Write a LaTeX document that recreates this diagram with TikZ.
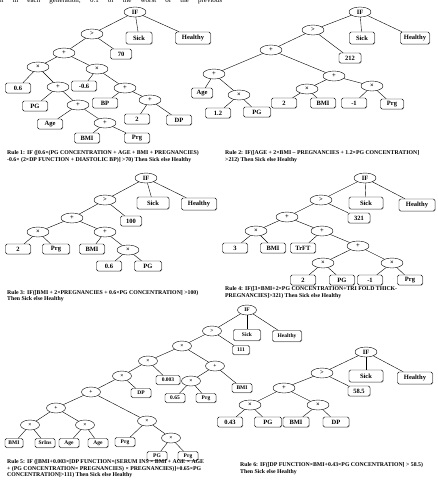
\documentclass[tikz,border=0pt]{standalone}
\usepackage{fontspec}
\setmainfont{Liberation Serif}
\usetikzlibrary{shapes.geometric,shadows}

\begin{document}
\begin{tikzpicture}[x=1pt, y=-1pt,
  op/.style={ellipse, draw, thin, minimum width=22pt, minimum height=10pt, inner sep=0pt, font=\fontsize{6.5}{7}\selectfont\bfseries},
  leaf/.style={rectangle, rounded corners=1.5pt, draw, thin, fill=white, minimum width=25pt, minimum height=10pt, inner sep=0pt, font=\fontsize{6.5}{7}\selectfont\bfseries, drop shadow={shadow xshift=0.5pt, shadow yshift=-0.5pt, fill=gray!60, opacity=1}},
  top/.style={minimum height=12pt},
  small/.style={minimum width=20pt, minimum height=9pt, font=\fontsize{5.5}{6}\selectfont\bfseries},
  smallop/.style={minimum width=19pt, minimum height=10pt, font=\fontsize{5.5}{6}\selectfont\bfseries},
  rule/.style={anchor=north west, align=left, inner sep=0pt, font=\fontsize{5.8}{6.4}\selectfont\bfseries}]

\useasboundingbox (0,0) rectangle (438,488);

% Cut-off text line at the top
\node[anchor=base west, inner sep=0pt, text width=222pt, font=\fontsize{7}{8}\selectfont] (topline) at (0,2.3)
  {n\hfill in\hfill each\hfill generation;\hfill 0.1\hfill of\hfill the\hfill worst\hfill of\hfill the\hfill previous};

% ---- Rule 1 tree ----
\node[op] (aIF) at (135,12) {IF};
\node[op] (aGT) at (92,34) {>};
\node[leaf, top, minimum width=26pt] (aSick) at (139,38) {Sick};
\node[leaf, top, minimum width=35pt] (aHealthy) at (193,38) {Healthy};
\node[leaf, minimum width=21pt] (a70) at (121,54) {70};
\node[op] (aAdd) at (64,53) {+};
\node[op] (aMulL) at (38,67) {×};
\node[op] (aMulR) at (97,69) {×};
\node[leaf] (a06) at (18,88) {0.6};
\node[op] (aAddPG) at (58,87) {+};
\node[leaf] (aN06) at (84,86) {-0.6};
\node[op] (aAddBP) at (125,88) {+};
\node[leaf] (aPG) at (35,106) {PG};
\node[op] (aAddAge) at (78,105) {+};
\node[leaf] (aBP) at (105,103) {BP};
\node[op] (aAddDP) at (150,100) {+};
\node[leaf] (aAge) at (50,124) {Age};
\node[op] (aAddBMI) at (105,123) {+};
\node[leaf] (a2) at (137,119) {2};
\node[leaf] (aDP) at (179,120) {DP};
\node[leaf] (aBMI) at (87,138) {BMI};
\node[leaf] (aPrg) at (137,138) {Prg};

\foreach \a/\b in {aIF/aGT, aIF/aSick, aIF/aHealthy, aGT/aAdd, aGT/a70, aAdd/aMulL, aAdd/aMulR,
  aMulL/a06, aMulL/aAddPG, aAddPG/aPG, aAddPG/aAddAge, aAddAge/aAge, aAddAge/aAddBMI,
  aAddBMI/aBMI, aAddBMI/aPrg, aMulR/aN06, aMulR/aAddBP, aAddBP/aBP, aAddBP/aAddDP,
  aAddDP/a2, aAddDP/aDP}
  \draw (\a) -- (\b);

\node[rule] (rule1) at (7,150.5) {Rule 1: IF ([0.6×(PG CONCENTRATION + AGE + BMI + PREGNANCIES)\\
  -0.6× (2×DP FUNCTION + DIASTOLIC BP)] >70) Then Sick else Healthy};

% ---- Rule 2 tree ----
\node[op] (bIF) at (360,12) {IF};
\node[op] (bGT) at (313,30) {>};
\node[leaf, top, minimum width=25pt] (bSick) at (362,38) {Sick};
\node[leaf, top, minimum width=29pt] (bHealthy) at (415,38) {Healthy};
\node[leaf, minimum width=22pt] (b212) at (350,58) {212};
\node[op] (bAdd) at (271,50) {+};
\node[op] (bAddL) at (214,74) {+};
\node[op] (bAddR) at (334,76) {+};
\node[leaf, minimum width=21pt] (bAge) at (202,93) {Age};
\node[op] (bMul) at (239,95) {×};
\node[leaf] (b12) at (218,113) {1.2};
\node[leaf, minimum width=27pt] (bPG) at (257,112) {PG};
\node[op] (bMul2) at (307,89) {×};
\node[op] (bMul3) at (372,86) {×};
\node[leaf] (b2) at (284,103) {2};
\node[leaf] (bBMI) at (323,103) {BMI};
\node[leaf] (bN1) at (354,103) {-1};
\node[leaf, minimum width=23pt] (bPrg) at (392,104) {Prg};

\foreach \a/\b in {bIF/bGT, bIF/bSick, bIF/bHealthy, bGT/bAdd, bGT/b212, bAdd/bAddL, bAdd/bAddR,
  bAddL/bAge, bAddL/bMul, bMul/b12, bMul/bPG, bAddR/bMul2, bAddR/bMul3,
  bMul2/b2, bMul2/bBMI, bMul3/bN1, bMul3/bPrg}
  \draw (\a) -- (\b);

\node[rule] (rule2) at (225,150.5) {Rule 2: IF([AGE + 2×BMI – PREGNANCIES + 1.2×PG CONCENTRATION]\\
  >212) Then Sick else Healthy};

% ---- Rule 3 tree ----
\node[op] (cIF) at (146,178) {IF};
\node[op] (cGT) at (105,200) {>};
\node[leaf, top, minimum width=32pt] (cSick) at (153,203) {Sick};
\node[leaf, top, minimum width=35pt] (cHealthy) at (199,204) {Healthy};
\node[leaf, minimum width=21pt] (c100) at (131,221) {100};
\node[op] (cAdd) at (72,218) {+};
\node[op] (cMul) at (38,232) {×};
\node[op] (cAddR) at (105,232) {+};
\node[leaf] (c2) at (18,249) {2};
\node[leaf, minimum width=27pt] (cPrg) at (56,249) {Prg};
\node[leaf] (cBMI) at (92,249) {BMI};
\node[op] (cMul2) at (128,250) {×};
\node[leaf] (c06) at (109,266) {0.6};
\node[leaf, minimum width=27pt] (cPG) at (148,266) {PG};

\foreach \a/\b in {cIF/cGT, cIF/cSick, cIF/cHealthy, cGT/cAdd, cGT/c100, cAdd/cMul, cAdd/cAddR,
  cMul/c2, cMul/cPrg, cAddR/cBMI, cAddR/cMul2, cMul2/c06, cMul2/cPG}
  \draw (\a) -- (\b);

\node[rule] (rule3) at (7,290) {Rule 3: IF([BMI + 2×PREGNANCIES + 0.6×PG CONCENTRATION] >100)\\
  Then Sick else Healthy};

% ---- Rule 4 tree ----
\node[op] (dIF) at (365,178) {IF};
\node[op] (dGT) at (321,200) {>};
\node[leaf, top, minimum width=34pt] (dSick) at (366,203) {Sick};
\node[leaf, top, minimum width=36pt] (dHealthy) at (417,205) {Healthy};
\node[leaf, minimum width=22pt] (d321) at (359,218) {321};
\node[op] (dAdd) at (287,217) {+};
\node[op] (dMul) at (256,231) {×};
\node[op] (dAddR) at (322,231) {+};
\node[leaf] (d3) at (235,248) {3};
\node[leaf] (dBMI) at (273,248) {BMI};
\node[leaf] (dTrFT) at (303,248) {TrFT};
\node[op] (dAdd2) at (358,246) {+};
\node[op] (dMul2) at (323,263) {×};
\node[op] (dMul3) at (392,263) {×};
\node[leaf] (d2) at (303,280) {2};
\node[leaf] (dPG) at (342,280) {PG};
\node[leaf] (dN1) at (370,280) {-1};
\node[leaf] (dPrg) at (410,280) {Prg};

\foreach \a/\b in {dIF/dGT, dIF/dSick, dIF/dHealthy, dGT/dAdd, dGT/d321, dAdd/dMul, dAdd/dAddR,
  dMul/d3, dMul/dBMI, dAddR/dTrFT, dAddR/dAdd2, dAdd2/dMul2, dAdd2/dMul3,
  dMul2/d2, dMul2/dPG, dMul3/dN1, dMul3/dPrg}
  \draw (\a) -- (\b);

\node[rule] (rule4) at (225,286.5) {Rule 4: IF([3×BMI+2×PG CONCENTRATION+TRI FOLD THICK-\\
  PREGNANCIES]>321) Then Sick else Healthy};

% ---- Rule 5 tree ----
\node[op, smallop] (eIF) at (247,310) {IF};
\node[op, smallop] (eGT) at (212,331) {>};
\node[leaf, small, minimum width=27pt, minimum height=11pt] (eSick) at (247,335) {Sick};
\node[leaf, small, minimum width=29pt, minimum height=11pt] (eHealthy) at (287,336) {Healthy};
\node[leaf, small, minimum width=17pt] (e111) at (241,350) {111};
\node[op, smallop] (eMul) at (182,346) {×};
\node[op, smallop] (eMulA) at (148,361) {×};
\node[op, smallop] (eAddR) at (215,366) {+};
\node[leaf, small, minimum width=24pt] (e0003) at (168,380) {0.003};
\node[leaf, small] (eBMIR) at (242,388) {BMI};
\node[op, smallop] (eMulB) at (191,381) {×};
\node[leaf, small] (e065) at (175,398) {0.65};
\node[leaf, small] (ePrgR) at (206,398) {Prg};
\node[op, smallop] (eMulC) at (122,376) {×};
\node[leaf, small] (eDP) at (141,393) {DP};
\node[op, smallop] (eAdd) at (91,392) {+};
\node[op, smallop] (eAddL) at (56,408) {+};
\node[op, smallop] (eMulD) at (147,421) {×};
\node[op, smallop] (eMulE) at (30,425) {×};
\node[op, smallop] (eMulF) at (85,425) {×};
\node[leaf, small, minimum width=18pt] (eBMI) at (14,443) {BMI};
\node[leaf, small] (eSrIns) at (45,443) {SrIns};
\node[leaf, small] (eAge) at (69,443) {Age};
\node[leaf, small] (eAge2) at (98,443) {Age};
\node[leaf, small] (ePrg) at (125,442) {Prg};
\node[op, smallop] (eMulG) at (171,438) {×};
\node[leaf, small] (ePG) at (157,456) {PG};
\node[leaf, small] (ePrg2) at (188,456) {Prg};

\foreach \a/\b in {eIF/eGT, eIF/eSick, eIF/eHealthy, eGT/eMul, eGT/e111, eMul/eMulA, eMul/eAddR,
  eMulA/eMulC, eMulA/e0003, eAddR/eMulB, eAddR/eBMIR, eMulB/e065, eMulB/ePrgR,
  eMulC/eAdd, eMulC/eDP, eAdd/eAddL, eAdd/eMulD, eAddL/eMulE, eAddL/eMulF,
  eMulE/eBMI, eMulE/eSrIns, eMulF/eAge, eMulF/eAge2, eMulD/ePrg, eMulD/eMulG,
  eMulG/ePG, eMulG/ePrg2}
  \draw (\a) -- (\b);

\node[rule] (rule5) at (7,459.5) {Rule 5: IF ([BMI+0.003×[DP FUNCTION×(SERUM INS × BMI + AGE × AGE\\
  + (PG CONCENTRATION× PREGNANCIES) × PREGNANCIES)]+0.65×PG\\
  CONCENTRATION]>111) Then Sick else Healthy};

% ---- Rule 6 tree ----
\node[op] (fIF) at (366,352) {IF};
\node[op] (fGT) at (322,373) {>};
\node[leaf, top, minimum width=34pt] (fSick) at (366,376) {Sick};
\node[leaf, top, minimum width=35pt] (fHealthy) at (415,378) {Healthy};
\node[leaf, minimum width=22pt] (f585) at (359,391) {58.5};
\node[op] (fAdd) at (284,388) {+};
\node[op] (fMulL) at (250,405) {×};
\node[op] (fMulR) at (318,405) {×};
\node[leaf] (f043) at (230,422) {0.43};
\node[leaf, minimum width=27pt] (fPG) at (268,422) {PG};
\node[leaf, minimum width=26pt] (fBMI) at (296,422) {BMI};
\node[leaf, minimum width=26pt] (fDP) at (336,422) {DP};

\foreach \a/\b in {fIF/fGT, fIF/fSick, fIF/fHealthy, fGT/fAdd, fGT/f585, fAdd/fMulL, fAdd/fMulR,
  fMulL/f043, fMulL/fPG, fMulR/fBMI, fMulR/fDP}
  \draw (\a) -- (\b);

\node[rule] (rule6) at (240,462.5) {Rule 6: IF([DP FUNCTION×BMI+0.43×PG CONCENTRATION] > 58.5)\\
  Then Sick else Healthy};

\end{tikzpicture}
\end{document}
